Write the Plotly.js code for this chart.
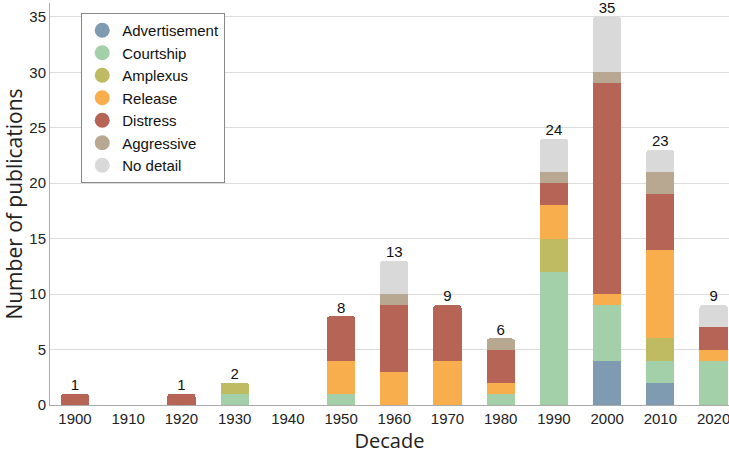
<!DOCTYPE html>
<html>
<head>
<meta charset="utf-8">
<script src="https://cdn.plot.ly/plotly-3.0.1.min.js"></script>
<style>html,body{margin:0;padding:0;background:#fff;}#chart{width:729px;height:455px;}</style>
</head>
<body>
<div id="chart"></div>
<script>
const decades = ["1900","1910","1920","1930","1940","1950","1960","1970","1980","1990","2000","2010","2020"];
const advertisement = [0,0,0,0,0,0,0,0,0,0,4,2,0];
const courtship     = [0,0,0,1,0,1,0,0,1,12,5,2,4];
const amplexus      = [0,0,0,1,0,0,0,0,0,3,0,2,0];
const release       = [0,0,0,0,0,3,3,4,1,3,1,8,1];
const distress      = [1,0,1,0,0,4,6,5,3,2,19,5,2];
const aggressive    = [0,0,0,0,0,0,1,0,1,1,1,2,0];
const noDetail      = [0,0,0,0,0,0,3,0,0,3,5,2,2];
const totalLabels   = ["1","","1","2","","8","13","9","6","24","35","23","9"];

const seriesNames = ["Advertisement","Courtship","Amplexus","Release","Distress","Aggressive","No detail"];
const seriesData = [advertisement,courtship,amplexus,release,distress,aggressive,noDetail];
const seriesColors = ["#7f9bb1","#a3cfa9","#bfbb62","#f9ae4e","#b66455","#b8a892","#d9d9d9"];

const totals = decades.map((d,i)=>seriesData.reduce((s,a)=>s+a[i],0));

const traces = [];
seriesData.forEach((vals,k)=>{
  traces.push({
    type:"bar", x:decades, y:vals, name:seriesNames[k],
    marker:{color:seriesColors[k], line:{width:0}},
    showlegend:false, hoverinfo:"x+y+name"
  });
});
seriesNames.forEach((n,k)=>{
  traces.push({
    type:"scatter", mode:"markers", x:[null], y:[null], name:n,
    marker:{color:seriesColors[k], size:15, symbol:"circle"},
    showlegend:true
  });
});
traces.push({
  type:"scatter", mode:"text", x:decades, y:totals,
  text:totalLabels.map((t,i)=>totals[i]>0?t:""), textposition:"top center",
  textfont:{family:"Liberation Sans, Arial, sans-serif", size:15, color:"#111"},
  showlegend:false, hoverinfo:"skip", cliponaxis:false
});

const layout = {
  width:729, height:455,
  margin:{l:50, r:0, t:3, b:50},
  barmode:"stack", bargap:0.47, barcornerradius:3,
  paper_bgcolor:"#fff", plot_bgcolor:"#fff",
  font:{family:"Liberation Sans, Arial, sans-serif", size:15, color:"#222"},
  xaxis:{
    type:"category", range:[-0.47,12.29],
    showline:true, linecolor:"#aaa", linewidth:1,
    showgrid:false, ticks:"",
    tickfont:{family:"Liberation Sans, Arial, sans-serif", size:15, color:"#222"},
    title:{text:"Decade", font:{family:"Open Sans, sans-serif", size:20, color:"#222"}, standoff:6}
  },
  yaxis:{
    range:[0,36.25], dtick:5,
    showline:true, linecolor:"#aaa", linewidth:1,
    showgrid:true, gridcolor:"#dcdcdc", gridwidth:1, zeroline:false, ticks:"",
    tickfont:{family:"Liberation Sans, Arial, sans-serif", size:15, color:"#222"},
    title:{text:"Number of publications", font:{family:"Open Sans, sans-serif", size:21, color:"#222"}, standoff:7}
  },
  legend:{
    x:0.046, y:0.975, xanchor:"left", yanchor:"top",
    traceorder:"normal",
    bgcolor:"#fff", bordercolor:"#888", borderwidth:1,
    font:{family:"Liberation Sans, Arial, sans-serif", size:15, color:"#111"},
    tracegroupgap:0, itemwidth:30
  },
  showlegend:true
};

Plotly.newPlot("chart", traces, layout, {displayModeBar:false, staticPlot:true});
</script>
</body>
</html>
